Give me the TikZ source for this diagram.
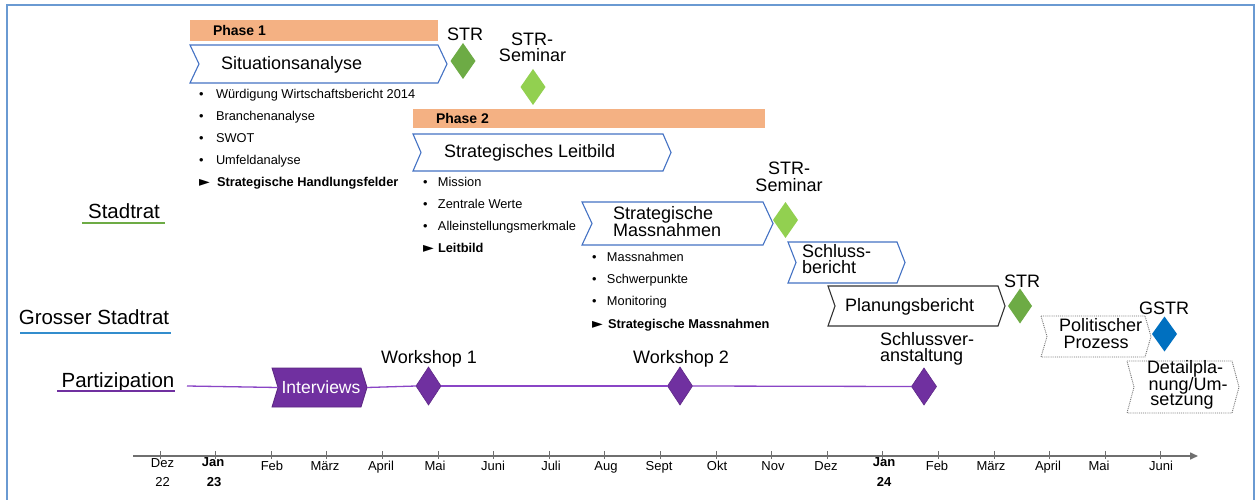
\documentclass[tikz,border=0pt]{standalone}
\usepackage{fontspec}
\setmainfont{Liberation Sans}
\newfontfamily\symfont{DejaVu Sans}
\usetikzlibrary{shapes.geometric,arrows.meta}
\definecolor{frameblue}{HTML}{6A9AD2}
\definecolor{phasecol}{HTML}{F4B183}
\definecolor{chevblue}{HTML}{4472C4}
\definecolor{strgreen}{HTML}{6DAB45}
\definecolor{semgreen}{HTML}{92D050}
\definecolor{gstrblue}{HTML}{0070C0}
\definecolor{purp}{HTML}{7030A0}
\definecolor{lpurp}{HTML}{8A45C6}
\definecolor{axisgray}{HTML}{6F6F6F}
\newcommand\fs[1]{\fontsize{#1}{#1}\selectfont}
% chevron: style, x-left, y-top, x-right(body), y-bottom, depth, name
\newcommand\chev[7]{%
  \path[#1] (#2,#3) -- (#4,#3) -- ({#4+#6},{(#3+#5)/2}) -- (#4,#5) -- (#2,#5) -- ({#2+#6},{(#3+#5)/2}) -- cycle;
  \coordinate (#7-w) at ({#2+#6},{(#3+#5)/2});
  \coordinate (#7-e) at ({#4+#6},{(#3+#5)/2});}
\begin{document}
\begin{tikzpicture}[x=1pt,y=-1pt,
  every node/.style={inner sep=0pt,outer sep=0pt},
  t18/.style={font=\fs{18}},
  row/.style={font=\fs{20.5}},
  bl/.style={font=\fs{12.8},anchor=base west},
  mon/.style={font=\fs{13},anchor=base},
  phasebar/.style={fill=phasecol,anchor=north west},
  phaselbl/.style={font=\bfseries\fs{14},anchor=base west},
  chevb/.style={draw=chevblue,line width=1.1pt,fill=white},
  chevk/.style={draw=black!80,line width=1.1pt,fill=white},
  chevd/.style={draw=black!55,line width=0.9pt,densely dotted,fill=white},
  chevp/.style={draw=purp!80!black,line width=0.8pt,fill=purp},
  dia/.style={diamond,minimum width=25pt,minimum height=36pt,inner sep=0pt},
  pline/.style={draw=lpurp,line width=1.3pt},
  tick/.style={draw=axisgray,line width=1pt},
  axisline/.style={draw=axisgray,line width=1.5pt}]
\useasboundingbox (0,0) rectangle (1257,500);
\fill[white] (0,0) rectangle (1257,500);
\draw[frameblue,line width=2pt] (7,501) -- (7,5) -- (1254,5) -- (1254,501);

% row labels
\node[row,anchor=base] (stadtrat) at (124,218) {Stadtrat};
\draw[draw=strgreen,line width=2pt] (82,223) -- (165,223);
\node[row,anchor=base] (gstadtrat) at (94,324) {Grosser Stadtrat};
\draw[draw=gstrblue!80,line width=2pt] (20,333) -- (171,333);
\node[row,anchor=base] (partiz) at (118,387) {Partizipation};
\draw[draw=purp,line width=2pt] (57,391) -- (175,391);

% phase 1
\node[phasebar,minimum width=248pt,minimum height=21pt] (ph1) at (190,20) {};
\node[phaselbl] (ph1lbl) at (213,36) {Phase 1};
\chev{chevb}{190}{45}{438}{83}{9}{sa}
\node[t18,anchor=base west] (satext) at (221,70) {Situationsanalyse};
\node[bl] (l1a) at (199,98.5) {\makebox[17pt][l]{•}Würdigung Wirtschaftsbericht 2014};
\node[bl] (l1b) at (199,120.5) {\makebox[17pt][l]{•}Branchenanalyse};
\node[bl] (l1c) at (199,142.5) {\makebox[17pt][l]{•}SWOT};
\node[bl] (l1d) at (199,164.5) {\makebox[17pt][l]{•}Umfeldanalyse};
\node[bl] (l1e) at (199,186.5) {\makebox[18pt][l]{\symfont\fs{14}►}\textbf{Strategische Handlungsfelder}};

% STR 1 and Seminar 1
\node[t18,anchor=base] (str1lbl) at (465,41) {STR};
\node[dia,fill=strgreen] (str1) at (463,61) {};
\node[t18,anchor=base] (sem1a) at (532,46) {STR-};
\node[t18,anchor=base] (sem1b) at (532.5,62) {Seminar};
\node[dia,fill=semgreen] (sem1) at (533,87) {};

% phase 2
\node[phasebar,minimum width=352pt,minimum height=19pt] (ph2) at (413,109) {};
\node[phaselbl] (ph2lbl) at (436,124) {Phase 2};
\chev{chevb}{413}{134}{663}{171}{8}{sl}
\node[t18,anchor=base west] (sltext) at (444,157) {Strategisches Leitbild};
\node[bl] (l2a) at (423,186.5) {\makebox[15pt][l]{•}Mission};
\node[bl] (l2b) at (423,208.5) {\makebox[15pt][l]{•}Zentrale Werte};
\node[bl] (l2c) at (423,230.5) {\makebox[15pt][l]{•}Alleinstellungsmerkmale};
\node[bl] (l2d) at (423,252.5) {\makebox[15pt][l]{\symfont\fs{14}►}\textbf{Leitbild}};

% Seminar 2
\node[t18,anchor=base] (sem2a) at (789,174) {STR-};
\node[t18,anchor=base] (sem2b) at (789,191) {Seminar};
\node[dia,fill=semgreen] (sem2) at (785.5,220) {};

% Strategische Massnahmen
\chev{chevb}{582}{202}{763}{245}{10}{sm}
\node[t18,anchor=base west] (sm1) at (613,219) {Strategische};
\node[t18,anchor=base west] (sm2) at (613,236) {Massnahmen};
\node[bl] (l3a) at (592,261.5) {\makebox[15pt][l]{•}Massnahmen};
\node[bl] (l3b) at (592,283.5) {\makebox[15pt][l]{•}Schwerpunkte};
\node[bl] (l3c) at (592,305.5) {\makebox[15pt][l]{•}Monitoring};
\node[bl] (l3d) at (592,328) {\makebox[16pt][l]{\symfont\fs{14}►}\textbf{Strategische Massnahmen}};

% Schlussbericht
\chev{chevb}{788}{242}{897}{283}{8}{sb}
\node[t18,anchor=base west] (sb1) at (802,257) {Schluss-};
\node[t18,anchor=base west] (sb2) at (802,273) {bericht};

% Planungsbericht
\chev{chevk}{828}{286}{998}{326}{7}{pb}
\node[t18,anchor=base west] (pbtext) at (845,311) {Planungsbericht};

% STR 3
\node[t18,anchor=base] (str3lbl) at (1022,287) {STR};
\node[dia,fill=strgreen,minimum height=35pt,minimum width=24pt] (str3) at (1020,306) {};

% Politischer Prozess
\chev{chevd}{1041}{316}{1145}{357}{6}{pp}
\node[t18,anchor=base,text depth=0pt] (pp1) at (1100.5,331.5) {Politischer};
\node[t18,anchor=base] (pp2) at (1096,348) {Prozess};

% GSTR
\node[t18,anchor=base] (gstrlbl) at (1164,314) {GSTR};
\node[dia,fill=gstrblue,minimum height=35pt] (gstr) at (1164.5,334) {};

% Detailplanung
\chev{chevd}{1127}{361}{1232}{413}{7}{dp}
\node[t18,anchor=base,text depth=0pt] (dp1) at (1185,373.5) {Detailpla-};
\node[t18,anchor=base,text depth=0pt,text height=12.5pt] (dp2) at (1188,390) {nung/Um-};
\node[t18,anchor=base,text height=12.5pt] (dp3) at (1182,405.5) {setzung};

% Partizipation line
\coordinate (pstart) at (187,386);
\chev{chevp}{272}{368}{361}{407}{6}{iv}
\node[font=\fs{17.5},text=white,anchor=base] (ivtext) at (321,393) {Interviews};
\node[dia,fill=purp,draw=purp!85!black,line width=0.6pt,minimum height=38pt] (ws1) at (428.5,386) {};
\node[t18,anchor=base] (ws1lbl) at (429,363) {Workshop 1};
\node[dia,fill=purp,draw=purp!85!black,line width=0.6pt,minimum height=38pt] (ws2) at (680,386) {};
\node[t18,anchor=base] (ws2lbl) at (681,363) {Workshop 2};
\node[dia,fill=purp,draw=purp!85!black,line width=0.6pt,minimum height=37pt] (sv) at (924,386.5) {};
\node[t18,anchor=base west] (sv1) at (880,345) {Schlussver-};
\node[t18,anchor=base west] (sv2) at (880,361) {anstaltung};
\draw[pline] (pstart) -- (iv-w);
\draw[pline] (iv-e) -- (ws1.west);
\draw[pline] (ws1.east) -- (ws2.west);
\draw[pline] (ws2.east) -- (sv.west);

% time axis
\coordinate (ax0) at (133,456);
\coordinate (ax1) at (1198,456);
\draw[axisline,-{Triangle[length=8pt,width=7pt]}] (ax0) -- (ax1);
\foreach \k in {0,...,18} \draw[tick] ({160+55.6*\k},451) -- ({160+55.6*\k},459);
\node[mon] (dez22a) at (162.5,467) {Dez};
\node[mon] (dez22b) at (162.5,486) {22};
\node[mon,font=\bfseries\fs{13}] (jan23a) at (213,466) {Jan};
\node[mon,font=\bfseries\fs{13}] (jan23b) at (214,486) {23};
\node[mon,font=\bfseries\fs{13}] (jan24a) at (884,466) {Jan};
\node[mon,font=\bfseries\fs{13}] (jan24b) at (884,486) {24};
\foreach \x/\m [count=\i] in {272/Feb,325/März,381/April,435/Mai,493/Juni,551/Juli,606/Aug,659/Sept,717/Okt,773/Nov,826/Dez,937/Feb,991/März,1048/April,1099/Mai,1161/Juni}
  \node[mon] (m\i) at (\x,470) {\m};
\end{tikzpicture}
\end{document}
